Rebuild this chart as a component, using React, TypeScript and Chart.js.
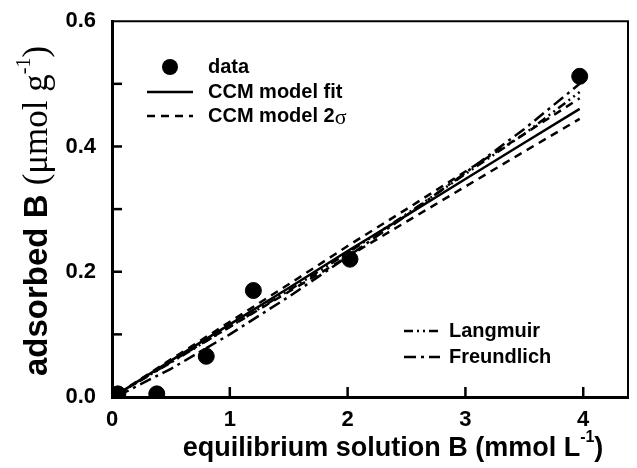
import React, { useEffect, useRef } from "react";
import { Chart, registerables } from "chart.js";

Chart.register(...registerables);

// Measured data
const dataX = [0.05, 0.38, 0.8, 1.2, 2.02, 3.97];
const dataY = [0.005, 0.005, 0.065, 0.17, 0.22, 0.512];

// Model curves
const modelX = [0.05, 0.5, 1, 1.5, 2, 2.5, 3, 3.5, 3.97];
const ccmFit = [0.005, 0.058, 0.116, 0.174, 0.233, 0.29, 0.348, 0.406, 0.46];
const ccmUpper = [0.005, 0.06, 0.12, 0.18, 0.241, 0.3, 0.36, 0.42, 0.477];
const ccmLower = [0.005, 0.056, 0.112, 0.168, 0.224, 0.28, 0.336, 0.392, 0.444];
const langmuir = [0.005, 0.055, 0.112, 0.17, 0.23, 0.292, 0.356, 0.42, 0.487];
const freundlich = [0.002, 0.045, 0.1, 0.16, 0.224, 0.29, 0.358, 0.428, 0.5];

// Axes
const xTickValues = [0, 1, 2, 3, 4];
const xTickLabels = ["0", "1", "2", "3", "4"];
const yTickValues = [0, 0.1, 0.2, 0.3, 0.4, 0.5, 0.6];
const yTickLabels = ["0.0", "", "0.2", "", "0.4", "", "0.6"];
const xMin = 0;
const xMax = 4.38;
const yMin = 0;
const yMax = 0.6;

const SANS = '"Liberation Sans", Arial, sans-serif';
const SERIF = '"Liberation Serif", "Times New Roman", serif';

const DASHED = [8, 6];
const DASH_DOT_DOT = [9, 4, 2, 4, 2, 4];
const DASH_DOT = [12, 5, 3, 5];

const toPts = (xs: number[], ys: number[]) => xs.map((x, i) => ({ x, y: ys[i] }));

const decorPlugin = {
  id: "decor",
  afterDraw(chart: any) {
    const { ctx, chartArea, scales } = chart;
    const xs = scales.x;
    const ys = scales.y;
    ctx.save();
    ctx.strokeStyle = "#000";
    ctx.fillStyle = "#000";
    // top & right border
    ctx.lineWidth = 2;
    ctx.setLineDash([]);
    ctx.beginPath();
    ctx.moveTo(chartArea.left, chartArea.top);
    ctx.lineTo(chartArea.right, chartArea.top);
    ctx.lineTo(chartArea.right, chartArea.bottom);
    ctx.stroke();
    // inward tick marks
    ctx.lineWidth = 2.5;
    yTickValues.forEach((v) => {
      if (v === yMin || v === yMax) return;
      const py = ys.getPixelForValue(v);
      ctx.beginPath();
      ctx.moveTo(chartArea.left, py);
      ctx.lineTo(chartArea.left + 10, py);
      ctx.stroke();
    });
    xTickValues.forEach((v) => {
      if (v === xMin) return;
      const px = xs.getPixelForValue(v);
      ctx.beginPath();
      ctx.moveTo(px, chartArea.bottom);
      ctx.lineTo(px, chartArea.bottom - 10);
      ctx.stroke();
    });

    // legend (upper left)
    ctx.textBaseline = "middle";
    ctx.textAlign = "left";
    ctx.font = `bold 20px ${SANS}`;
    const lx0 = 147, lx1 = 193, tx = 208;
    ctx.beginPath();
    ctx.arc(170, 67, 8, 0, Math.PI * 2);
    ctx.fill();
    ctx.fillText("data", tx, 67);
    ctx.lineWidth = 2.5;
    ctx.beginPath();
    ctx.moveTo(lx0, 92);
    ctx.lineTo(lx1, 92);
    ctx.stroke();
    ctx.fillText("CCM model fit", tx, 92);
    ctx.setLineDash(DASHED);
    ctx.beginPath();
    ctx.moveTo(lx0, 116);
    ctx.lineTo(lx1, 116);
    ctx.stroke();
    ctx.setLineDash([]);
    ctx.fillText("CCM model 2", tx, 116);
    const w2 = ctx.measureText("CCM model 2").width;
    ctx.font = `22px ${SERIF}`;
    ctx.fillText("σ", tx + w2, 118);

    // legend (lower right)
    ctx.font = `bold 20px ${SANS}`;
    const rx0 = 404, rx1 = 440, rtx = 449;
    ctx.setLineDash(DASH_DOT_DOT);
    ctx.beginPath();
    ctx.moveTo(rx0, 331);
    ctx.lineTo(rx1, 331);
    ctx.stroke();
    ctx.setLineDash(DASH_DOT);
    ctx.beginPath();
    ctx.moveTo(rx0, 357);
    ctx.lineTo(rx1, 357);
    ctx.stroke();
    ctx.setLineDash([]);
    ctx.fillText("Langmuir", rtx, 331);
    ctx.fillText("Freundlich", rtx, 357);

    // x title
    const xt1 = "equilibrium solution B (mmol L";
    const xsup = "-1";
    const xt2 = ")";
    ctx.font = `bold 27px ${SANS}`;
    const w1 = ctx.measureText(xt1).width;
    const w3 = ctx.measureText(xt2).width;
    ctx.font = `bold 16px ${SANS}`;
    const ws = ctx.measureText(xsup).width;
    const total = w1 + ws + w3;
    let cx = 393 - total / 2;
    const ty = 449;
    ctx.font = `bold 27px ${SANS}`;
    ctx.fillText(xt1, cx, ty);
    cx += w1;
    ctx.font = `bold 16px ${SANS}`;
    ctx.fillText(xsup, cx, ty - 11);
    cx += ws;
    ctx.font = `bold 27px ${SANS}`;
    ctx.fillText(xt2, cx, ty);

    // y title (rotated)
    ctx.translate(38, 211);
    ctx.rotate(-Math.PI / 2);
    const y1 = "adsorbed B ";
    const y2 = "(μmol g";
    const ysup = "-1";
    const y3 = ")";
    ctx.font = `bold 33px ${SANS}`;
    const a = ctx.measureText(y1).width;
    ctx.font = `35px ${SERIF}`;
    const b = ctx.measureText(y2).width;
    const d = ctx.measureText(y3).width;
    ctx.font = `20px ${SERIF}`;
    const c = ctx.measureText(ysup).width;
    let px = -(a + b + c + d) / 2;
    ctx.font = `bold 33px ${SANS}`;
    ctx.fillText(y1, px, 0);
    px += a;
    ctx.font = `35px ${SERIF}`;
    ctx.fillText(y2, px, 0);
    px += b;
    ctx.font = `20px ${SERIF}`;
    ctx.fillText(ysup, px, -13);
    px += c;
    ctx.font = `35px ${SERIF}`;
    ctx.fillText(y3, px, 0);
    ctx.restore();
  },
};

export default function App() {
  const ref = useRef<HTMLCanvasElement>(null);
  useEffect(() => {
    if (!ref.current) return;
    const lineDs = (label: string, ys: number[], dash: number[]) => ({
      type: "line" as const,
      label,
      data: toPts(modelX, ys),
      borderColor: "#000",
      borderWidth: 2.5,
      borderDash: dash,
      pointRadius: 0,
      fill: false,
      tension: 0,
    });
    const chart = new Chart(ref.current, {
      type: "scatter",
      data: {
        datasets: [
          lineDs("Freundlich", freundlich, DASH_DOT),
          lineDs("Langmuir", langmuir, DASH_DOT_DOT),
          lineDs("CCM model 2σ upper", ccmUpper, DASHED),
          lineDs("CCM model 2σ lower", ccmLower, DASHED),
          lineDs("CCM model fit", ccmFit, []),
          {
            type: "scatter" as const,
            label: "data",
            data: toPts(dataX, dataY),
            backgroundColor: "#000",
            borderColor: "#000",
            pointRadius: 8,
            pointHoverRadius: 8,
          },
        ] as any,
      },
      options: {
        animation: false,
        responsive: false,
        devicePixelRatio: 1,
        layout: { padding: { top: 20, right: 1, left: 0, bottom: 0 } },
        plugins: { legend: { display: false }, tooltip: { enabled: false } },
        scales: {
          x: {
            type: "linear",
            min: xMin,
            max: xMax,
            grid: { display: false },
            border: { display: true, color: "#000", width: 3 },
            afterBuildTicks: (s: any) => {
              s.ticks = xTickValues.map((v) => ({ value: v }));
            },
            afterFit: (s: any) => {
              s.height = 71;
            },
            ticks: {
              color: "#000",
              padding: 2,
              maxRotation: 0,
              autoSkip: false,
              font: { family: SANS, size: 22, weight: "bold" },
              callback: (v: any) => {
                const i = xTickValues.indexOf(Number(v));
                return i >= 0 ? xTickLabels[i] : "";
              },
            },
          },
          y: {
            type: "linear",
            min: yMin,
            max: yMax,
            grid: { display: false },
            border: { display: true, color: "#000", width: 3 },
            afterBuildTicks: (s: any) => {
              s.ticks = yTickValues.map((v) => ({ value: v }));
            },
            afterFit: (s: any) => {
              s.width = 112;
            },
            ticks: {
              color: "#000",
              padding: 8,
              autoSkip: false,
              font: { family: SANS, size: 22, weight: "bold" },
              callback: (v: any) => {
                const i = yTickValues.findIndex((t) => Math.abs(t - Number(v)) < 1e-9);
                return i >= 0 ? yTickLabels[i] : "";
              },
            },
          },
        },
      },
      plugins: [decorPlugin],
    } as any);
    return () => chart.destroy();
  }, []);
  return (
    <div style={{ position: "absolute", left: 0, top: 0, width: 637, height: 468, background: "#fff" }}>
      <canvas ref={ref} width={637} height={468} style={{ display: "block" }} />
    </div>
  );
}
